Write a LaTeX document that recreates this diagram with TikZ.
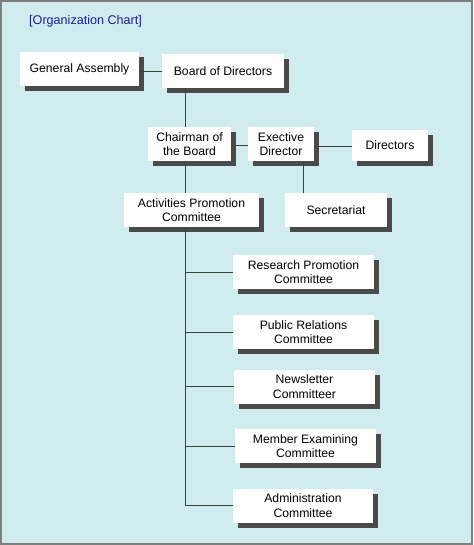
\documentclass[tikz,border=0pt]{standalone}
\usepackage{fontspec}
\setmainfont{Liberation Sans}
\usetikzlibrary{shadows}
\definecolor{bgcyan}{HTML}{D0ECEE}
\definecolor{framegray}{HTML}{7F7F7F}
\definecolor{titleblue}{HTML}{1C1C96}
\definecolor{shadegray}{HTML}{4A4A4A}
\tikzset{
  unit/.style={fill=white, inner sep=0pt, align=center, minimum height=34pt,
    font=\fontsize{12.2}{14.5}\selectfont,
    drop shadow={shadow xshift=5pt, shadow yshift=-5pt, fill=shadegray, opacity=1}},
  link/.style={draw=black!75, line width=0.9pt}
}
\begin{document}
\begin{tikzpicture}[x=1pt, y=-1pt]
      \useasboundingbox (0,0) rectangle (473,545);
      \fill[bgcyan] (0,0) rectangle (473,545);
      \draw[framegray, line width=2pt] (1,1) rectangle (472,544);
      \node[anchor=west, inner sep=0pt, text=titleblue, font=\fontsize{12.6}{14}\selectfont] (title) at (29,21) {[Organization Chart]};
      % top level
      \node[unit, minimum width=119pt] (ga) at (79.5,69.5) {General Assembly};
      \node[unit, minimum width=122pt] (bod) at (223,71) {Board of Directors};
      \node[unit, minimum width=83pt] (chair) at (189.5,144) {Chairman of\\the Board};
      \node[unit, minimum width=66pt] (exec) at (281,144) {Exective\\Director};
      \node[unit, minimum width=76pt, minimum height=31pt] (dirs) at (390,145.5) {Directors};
      \node[unit, minimum width=135pt] (apc) at (191.5,210) {Activities Promotion\\Committee};
      \node[unit, minimum width=102pt] (sec) at (336,210) {Secretariat};
      % committees
      \node[unit, minimum width=141pt] (rpc) at (303.5,272) {Research Promotion\\Committee};
      \node[unit, minimum width=141pt] (prc) at (303.5,332) {Public Relations\\Committee};
      \node[unit, minimum width=141pt] (nlc) at (304.5,386.5) {Newsletter\\Committeer};
      \node[unit, minimum width=141pt] (mec) at (305.5,446) {Member Examining\\Committee};
      \node[unit, minimum width=140pt] (adc) at (303,505.5) {Administration\\Committee};
      \coordinate (trunk) at (185,0);
      \coordinate (secline) at (303,0);
      % connectors
      \draw[link] (ga.east |- 0,71) -- (bod.west |- 0,71);
      \draw[link] (trunk |- bod.south) -- (trunk |- chair.north);
      \draw[link] (chair.east |- 0,145) -- (exec.west |- 0,145);
      \draw[link] (exec.east |- 0,146) -- (dirs.west |- 0,146);
      \draw[link] (secline |- exec.south) -- (secline |- sec.north);
      \draw[link] (trunk |- chair.south) -- (trunk |- apc.north);
      \draw[link] (trunk |- apc.south) -- (trunk |- adc.west);
      \foreach \c in {rpc,prc,nlc,mec,adc}
        \draw[link] (trunk |- \c.west) -- (\c.west);
\end{tikzpicture}
\end{document}
